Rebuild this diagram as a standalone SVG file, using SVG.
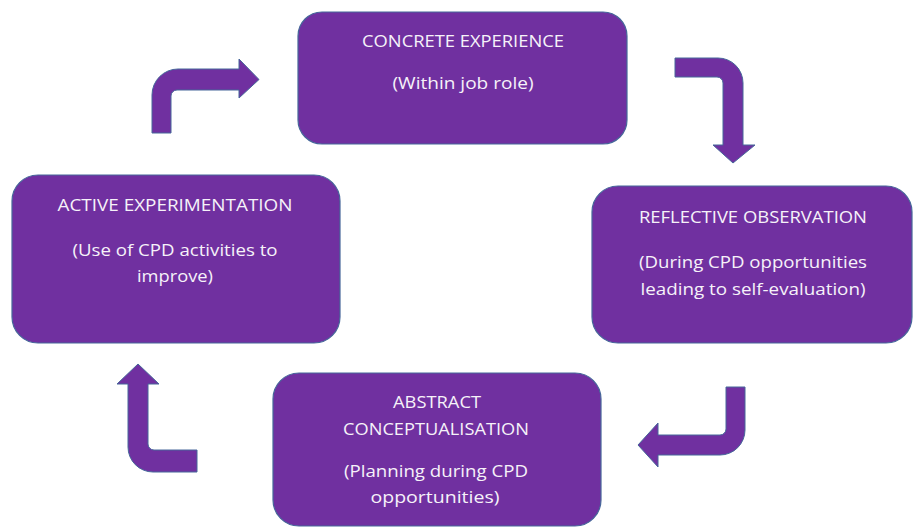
<svg xmlns="http://www.w3.org/2000/svg" width="914" height="528" viewBox="0 0 914 528">
<style>
.box{fill:#7030a0;stroke:#46679a;stroke-width:1.2}
.arr{fill:#7030a0;stroke:#46679a;stroke-width:1}
.t{font-family:"Open Sans","Liberation Sans",Arial,sans-serif;font-size:16.5px;fill:#f6f2f9;text-anchor:middle}
</style>
<rect width="914" height="528" fill="#ffffff"/>
<g id="connectors">
<path class="arr" d="M152,133 L152,95 A26,26 0 0 1 178,69 L239,69 L239,59 L259,79.5 L239,98 L239,90 L177,90 A6,6 0 0 0 171,96 L171,133 Z"/>
<path class="arr" d="M675,58 L718,58 A25,25 0 0 1 743,83 L743,145 L755,145 L733,163 L713,145 L723,145 L723,83 A6,6 0 0 0 717,77 L675,77 Z"/>
<path class="arr" d="M726,387 L745,387 L745,430 A25,25 0 0 1 720,455 L658,455 L658,467 L638,445 L658,423 L658,435 L720,435 A6,6 0 0 0 726,429 Z"/>
<path class="arr" d="M197,472 L153,472 A25,25 0 0 1 128,447 L128,384 L117,384 L138,364 L159,384 L148,384 L148,444 A6,6 0 0 0 154,450 L197,450 Z"/>
</g>
<g id="concrete-experience">
<rect class="box" x="298" y="12" width="329" height="132" rx="24"/>
<text class="t" x="463" y="47" textLength="202" lengthAdjust="spacingAndGlyphs">CONCRETE EXPERIENCE</text>
<text class="t" x="463" y="89" textLength="141" lengthAdjust="spacingAndGlyphs">(Within job role)</text>
</g>
<g id="reflective-observation">
<rect class="box" x="592" y="186" width="320" height="157" rx="26"/>
<text class="t" x="753" y="223" textLength="228" lengthAdjust="spacingAndGlyphs">REFLECTIVE OBSERVATION</text>
<text class="t" x="753" y="268" textLength="228" lengthAdjust="spacingAndGlyphs">(During CPD opportunities</text>
<text class="t" x="753" y="295" textLength="225" lengthAdjust="spacingAndGlyphs">leading to self-evaluation)</text>
</g>
<g id="abstract-conceptualisation">
<rect class="box" x="273" y="373" width="328" height="153" rx="26"/>
<text class="t" x="437" y="408" textLength="88" lengthAdjust="spacingAndGlyphs">ABSTRACT</text>
<text class="t" x="436" y="435" textLength="186" lengthAdjust="spacingAndGlyphs">CONCEPTUALISATION</text>
<text class="t" x="436" y="477" textLength="184" lengthAdjust="spacingAndGlyphs">(Planning during CPD</text>
<text class="t" x="435" y="503" textLength="129" lengthAdjust="spacingAndGlyphs">opportunities)</text>
</g>
<g id="active-experimentation">
<rect class="box" x="12" y="175" width="328" height="168" rx="26"/>
<text class="t" x="175" y="211" textLength="235" lengthAdjust="spacingAndGlyphs">ACTIVE EXPERIMENTATION</text>
<text class="t" x="175" y="256" textLength="205" lengthAdjust="spacingAndGlyphs">(Use of CPD activities to</text>
<text class="t" x="175" y="282" textLength="76" lengthAdjust="spacingAndGlyphs">improve)</text>
</g>
</svg>
